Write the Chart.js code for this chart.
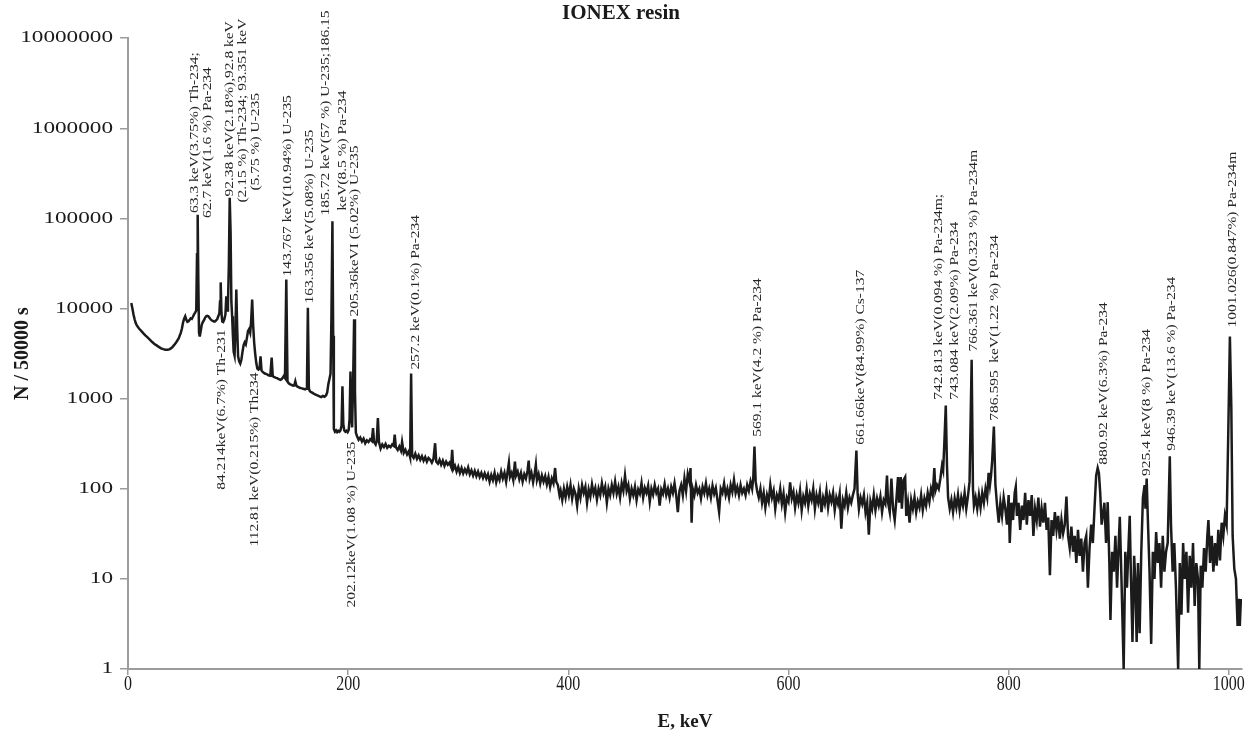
<!DOCTYPE html>
<html>
<head>
<meta charset="utf-8">
<script src="https://cdn.jsdelivr.net/npm/chart.js@4.4.1/dist/chart.umd.min.js"></script>
<style>
  html, body { margin: 0; padding: 0; background: #fff; }
  #wrap { width: 1252px; height: 736px; }
</style>
</head>
<body>
<div id="wrap"><canvas id="spectrum"></canvas></div>
<script>
// Gamma spectrum, IONEX resin (E in keV, counts per 50000 s)
const spectrumLow = [
  [3,11500],[4,10000],[5,8600],[6,7600],[7,6900],[8,6500],[10,6000],[12,5650],[14,5300],[16,5000],
  [18,4750],[20,4500],[22,4250],[24,4050],[26,3900],[28,3750],[30,3620],[32,3550],[34,3490],[36,3480],
  [38,3550],[40,3700],[42,3950],[44,4250],[46,4650],[48,5400],[49,6000],[50,7000],[51,7700],[52,8200],
  [53,7500],[54,7100],[55,7200],[56,7500],[57,7800],[58,7700],[59,8100],[60,8600],[61,9000],[62,9500],
  [62.7,40000],[63.3,110000],[63.9,20000],[64.5,5400],[65.2,4900],[66,5600],[67,6600],[68,7100],[69,7400],[70,7900],
  [71,8200],[72,8300],[73,8200],[74,7900],[75,7600],[76,7400],[77,7300],[78,7200],[79,7200],[80,7400],
  [81,7600],[82,8200],[83,8800],[83.6,12000],[84.2,19500],[84.9,9000],[85.6,7200],[86.5,7100],[87.5,7600],[88.5,8600],
  [89.3,13700],[90,9500],[90.8,11000],[91.6,30000],[92.4,170000],[93.2,70000],[93.9,12000],[94.6,8200],[95.3,5000],[96,3300],
  [96.8,3000],[97.6,6000],[98.4,16300],[99.2,6000],[100,2950],[101,2600],[102,2450],[103,2700],[104,3300],[105,3900],
  [106,4200],[107,4000],[108,4700],[109,5600],[110,5900],[111,5400],[111.8,7000],[112.8,12600],[113.7,6500],[114.6,4200],
  [115.5,3200],[116.5,2500],[117.5,2150],[118.5,2100],[119.5,2150],[120.4,2950],[121.3,2050],[122.3,1980],[123.3,1940],[124.3,1900],
  [125.3,1880],[126.3,1860],[127.3,1830],[128.3,1810],[129.3,1800],[130.5,2850],[131.5,1780],[132.5,1740],[133.5,1720],[134.5,1700],
  [135.5,1690],[136.5,1660],[137.5,1640],[138.5,1620],[139.5,1640],[140.5,1700],[141.5,1780],[142.6,1700],[143.8,21000],[144.9,1550],
  [146,1480],[147,1450],[148,1430],[149,1410],[150,1390],[151,1400],[152,1560],[153,1390],[154,1360],[155,1340],
  [156,1320],[157,1310],[158,1300],[159,1290],[160,1280],[161,1270],[162,1290],[162.6,1500],[163.4,10200],[164.3,1300],
  [165.2,1210],[166.5,1180],[168,1150],[169.5,1120],[171,1100],[172.5,1080],[174,1060],[175.5,1040],[177,1070],[178.5,1050],
  [180,1090],[181,1180],[182,1450],[183,1650],[184,1900],[184.8,8000],[185.7,93000],[186.4,5000],[187,460],[188,430],
  [189,445],[190,425],[191,440],[192,430],[193,445],[194,500],[194.8,1370],[195.6,520],[196.5,445],[197.5,430],
  [198.5,440],[199.5,425],[200.5,450],[201.3,600],[202.1,2000],[202.9,700],[203.6,480],[204.5,1500],[205.4,7600],[206.2,1200],
  [207,420]
];

const spectrumMid = [
  [208,385],[209.5,350],[211,370],[212.5,335],[214,360],[215.5,320],[217,345],[218.5,330],[220,355],[221.5,340],
  [222.6,470],[223.6,330],[225,310],[226,340],[227,610],[228,330],[229.5,280],[231,310],[232.5,290],[234,315],
  [235.5,285],[237,300],[238.5,290],[240,310],[241.3,300],[242.3,400],[243.3,290],[245,270],[246.5,295],[248,265],
  [249,330],[250.5,250],[252,270],[253.5,240],[255,260],[256.3,225],[257.2,1900],[258.1,235],[259.5,220],[261,245],
  [262.5,215],[264,235],[265.5,210],[267,230],[268.5,205],[270,225],[271.5,200],[273,220],[274.5,210],[276,195],
  [277.5,215],[279,320],[280,200],[281.5,190],[283,210],[284.5,185],[286,205],[287.5,180],[289,200],[290.5,185],
  [292,195],[293.5,175],[294.5,270],[295.5,165],[297,180],[298.5,155],[300,175],[301.5,150],[303,170],[304.5,148],
  [306,165],[307.5,150],[309,172],[310.5,145],[312,160],[313.5,140],[315,158],[316.5,138],[318,155],[319.5,135],
  [321,150],[322.5,132],[324,148],[325.5,130],[327,145],[328.5,120],[330,142],[331.5,125],[333,150],[334.5,118],
  [336,140],[337.5,125],[339,155],[340.5,130],[342,150],[343.5,120],[345,160],[346,195],[347,135],[348.5,150],
  [350,125],[351.5,200],[352.5,140],[354,155],[355.5,128],[357,150],[358.5,120],[360,145],[361.5,130],[363,160],
  [364,205],[365,130],[366.5,150],[368,118],[369.5,150],[370.5,185],[371.5,125],[373,145],[374.5,115],[376,140],
  [377.5,120],[379,138],[380.5,112],[382,135],[383.5,105],[385,130],[386.5,115],[388,170],[389,120],[390.5,110],
  [392,85],[393,95],[394.5,75],[396,100],[397.5,80],[399,105],[400.5,85],[402,110],[403.5,78],[405,100],
  [406.5,88],[408,65],[409.5,100],[411,80],[412.5,110],[414,90],[415.5,105],[417,70],[418.5,98],[420,82],
  [421.5,112],[423,88],[424.5,102],[426,76],[427.5,100],[429,85],[430.5,115],[432,90],[433.5,105],[435,70],
  [436.5,100],[438,85],[439.5,110],[441,90],[442.5,120],[444,88],[445.5,105],[447,80],[448.5,115],[450,95],
  [451.5,140],[453,95],[454.5,110],[456,78],[457.5,100],[459,85],[460.5,105],[462,75],[463.5,98],[465,88],
  [466.5,115],[468,80],[469.5,102],[471,90],[472.5,108],[474,72],[475.5,100],[477,86],[478.5,110],[480,90],
  [481.5,100],[483,65],[484.5,98],[486,88],[487.5,112],[489,85],[490.5,100],[492,80],[493.5,105],[495,90],
  [496.5,115],[498,85],[499.5,55],[501,95],[502.5,110],[504,85],[505.5,130],[507,95],[508.5,145],[510,120],
  [511,170],[512,42],[513,100],[514.5,85],[516,110],[517.5,90],[519,100],[520.5,78],[522,105],[523.5,90],
  [525,115],[526.5,85],[528,100],[529.5,80],[531,108],[532.5,88],[534,102],[535.5,75],[537,55],[538.5,100],
  [540,90],[541.5,115],[543,85],[544.5,100],[546,80],[547.5,110],[549,92],[550.5,125],[552,90],[553.5,105],
  [555,85],[556.5,110],[558,90],[559.5,100],[561,85],[562.5,110],[564,95],[565.5,120],[567,100],[568,130],
  [569.1,295],[570.2,120],[571.5,95],[573,80],[574.5,100],[576,70],[577.5,90],[579,62],[580.5,85],[582,72],
  [583.5,110],[585,80],[586.5,95],[588,60],[589.5,85],[591,75],[592.5,100],[594,68],[595.5,88],[597,55],
  [598.5,80],[600,72],[601.5,118],[603,78],[604.5,92],[606,62],[607.5,85],[609,70],[610.5,95],[612,58],
  [613.5,82],[615,70],[616.5,98],[618,65],[619.5,88],[621,75],[622.5,100],[624,60],[625.5,85],[627,70],
  [628.5,92],[630,55],[631.5,80],[633,68],[634.5,95],[636,62],[637.5,85],[639,72],[640.5,90],[642,58],
  [643.5,80],[645,68],[646.5,88],[648,36],[649.5,75],[651,65],[652.5,90],[654,62],[655.5,80],[657,70],
  [658.5,85],[660,100],[661.7,265],[662.8,90],[664,60],[665.5,80],[667,68],[668.5,85],[670,55],[671.5,70],
  [673,31],[674.5,72],[676,60],[677.5,85],[679,58],[680.5,78],[682,65],[683.5,82],[685,55],[686.5,75],
  [688,68],[689.5,140],[690.5,70],[692,55],[693.5,130],[695,60],[696.5,45],[698,75],[699.5,135],[700.5,70],
  [702,135],[703,60],[704.5,125],[706,135],[707,50],[708.5,70],[710,42],[711.5,75],[713,60],[714.5,80],
  [716,55],[717.5,72],[719,62],[720.5,85],[722,58],[723.5,78],[725,65],[726.5,90],[728,72],[729.5,100],
  [731,85],[732.5,170],[733.5,95],[735,110],[736.5,100],[738,130],[739.5,180],[740.5,160],[741.5,300],[742.9,840],
  [744,180],[745,80],[746.5,60],[748,75],[749.5,55],[751,78],[752.5,62],[754,85],[755.5,58],[757,80],
  [758.5,65],[760,90],[761.5,60],[763,82],[764.5,120],[766.4,2700],[767.6,100],[768.5,65],[770,80],[771.5,60],
  [773,85],[774.5,62],[776,90],[777.5,70],[779,100],[780.5,80],[781.8,150],[783,110],[784,140],[785,200],
  [786.6,490],[788,110],[789.5,65],[791,42],[792.5,70],[794,50],[795.5,80]
];

const spectrumHigh = [
  [797,60],[798.5,40],[800,85],[801,25],[802.5,70],[804,45],[805.5,90],[806.5,105],[807.5,50],[809,70],
  [810.5,35],[812,65],[813.5,45],[815,90],[816.5,40],[818,75],[819.5,50],[821,85],[822.5,30],[824,60],
  [825.5,45],[827,80],[828.5,38],[830,60],[831.5,42],[833,70],[834.5,35],[836,48],[837.5,11],[839,45],
  [840.5,30],[842,55],[843.5,35],[845,50],[846.5,28],[848,45],[849.5,32],[851,40],[852.5,82],[854,30],
  [855.5,22],[857,38],[858.5,20],[860,30],[861.5,15],[863,35],[864.5,18],[866,28],[867.5,12],[869,25],
  [870.5,30],[872,8],[873.5,22],[875,40],[876.5,25],[878,60],[879.5,140],[880.9,170],[882,150],[883.2,90],
  [884.5,40],[886,55],[887,70],[888.5,25],[890,71],[891.5,15],[892.5,3.5],[894,20],[895.5,12],[897,30],
  [898.5,8],[900,25],[901,49],[902.5,10],[904.5,1],[906,20],[907.5,8],[909,25],[910,50],[911,12],
  [912.5,2],[914,18],[915,10],[916.3,2],[917.5,15],[919,2.5],[920.5,20],[922,80],[923.5,110],[924.3,60],
  [925.4,130],[926.5,45],[928,12],[929.5,1.9],[931,20],[932.5,10],[934,33],[935.5,15],[937,25],[938.5,8],
  [940,30],[941.5,12],[943,20],[944.5,25],[946.4,230],[947.5,40],[949,12],[950.5,25],[952,8],[954,1],
  [955.5,15],[957,4],[958.5,25],[960,10],[961.5,20],[963,4.2],[964.5,18],[966,8],[967.5,25],[969,5],
  [970.5,15],[972,10],[973.2,1],[974.5,14],[976,8],[977.5,22],[979,12],[980.5,30],[981.5,45],[983,15],
  [984.5,30],[986,12],[987.5,25],[989,14],[990.5,35],[992,16],[993.5,42],[995,30],[996.5,50],[998,40],
  [999.5,400],[1001,4900],[1002.3,800],[1003.5,30],[1005,13],[1006.5,10],[1008,3],[1009,6],[1010,3],[1011,6]
];

const xTickValues = [0, 200, 400, 600, 800, 1000];
const yTickValues = [1, 10, 100, 1000, 10000, 100000, 1000000, 10000000];

// peak annotations
const labelEnergies = [63.2, 92.4, 143.77, 163.36, 185.72, 205.36, 257.2, 569.1, 661.66, 742.9,
  766.36, 786.6, 880.92, 925.4, 946.39, 1001.03, 84.21, 112.81, 202.12];
const labelTexts = [
  ['63.3 keV(3.75%) Th-234;', '62.7 keV(1.6 %) Pa-234'],
  ['92.38 keV(2.18%),92.8 keV', '(2.15 %) Th-234; 93.351 keV', '(5.75 %) U-235'],
  ['143.767 keV(10.94%) U-235'],
  ['163.356 keV(5.08%) U-235'],
  ['185.72 keV(57 %) U-235;186.15', 'keV(8.5 %) Pa-234'],
  ['205.36keVI (5.02%) U-235'],
  ['257.2 keV(0.1%) Pa-234'],
  ['569.1 keV(4.2 %) Pa-234'],
  ['661.66keV(84.99%) Cs-137'],
  ['742.813 keV(0.094 %) Pa-234m;', '743.084 keV(2.09%) Pa-234'],
  ['766.361 keV(0.323 %) Pa-234m'],
  ['786.595  keV(1.22 %) Pa-234'],
  ['880.92 keV(6.3%) Pa-234'],
  ['925.4 keV(8 %) Pa-234'],
  ['946.39 keV(13.6 %) Pa-234'],
  ['1001.026(0.847%) Pa-234m'],
  ['84.214keV(6.7%) Th-231'],
  ['112.81 keV(0.215%) Th234'],
  ['202.12keV(1.08 %) U-235']
];
// where each label sits: count level of its start (or end, when below), pixel shifts
const labelPlacement = [
  { at: 115000, dx: -2.5, gap: 12.5, rise: [0, -5] },
  { at: 175000, dx: 0, gap: 13, rise: [0, -6, 6] },
  { at: 22700, dx: 1 },
  { at: 11400, dx: 2 },
  { at: 108000, dx: -6.5, gap: 17, rise: [0, 5] },
  { at: 8150, dx: 1 },
  { at: 2100, dx: 4 },
  { at: 378, dx: 3 },
  { at: 308, dx: 4 },
  { at: 975, dx: -7, gap: 15.5 },
  { at: 3330, dx: 2 },
  { at: 570, dx: 1 },
  { at: 185, dx: 5.5 },
  { at: 139, dx: 0 },
  { at: 264, dx: 1.5 },
  { at: 6150, dx: 2.5 },
  { at: 5840, dx: 1, below: true },
  { at: 1950, dx: 2, below: true },
  { at: 333, dx: 1, below: true }
];

const spectrum = spectrumLow.concat(spectrumMid, spectrumHigh);
const serif = '"Liberation Serif", "Times New Roman", serif';
const axisGrey = '#9c9c9c';

const peakLabels = {
  id: 'peakLabels',
  afterDatasetsDraw(chart) {
    const { ctx, scales: { x, y } } = chart;
    ctx.save();
    ctx.fillStyle = '#262626';
    ctx.font = '13px ' + serif;
    ctx.textBaseline = 'middle';
    labelEnergies.forEach((e, i) => {
      const p = labelPlacement[i];
      const px = x.getPixelForValue(e) + p.dx;
      const py = y.getPixelForValue(p.at);
      labelTexts[i].forEach((line, j) => {
        const rise = p.rise ? p.rise[j] : 0;
        ctx.save();
        ctx.translate(px + j * (p.gap || 13), py - rise);
        ctx.rotate(-Math.PI / 2);
        ctx.scale(1.19, 1);
        ctx.textAlign = p.below ? 'right' : 'left';
        ctx.fillText(line, 0, 0);
        ctx.restore();
      });
    });
    ctx.restore();
  }
};

// tick labels in the picture are stretched (wide on y, tall on x)
const stretchedTicks = {
  id: 'stretchedTicks',
  afterDraw(chart) {
    const { ctx, scales: { x, y } } = chart;
    ctx.save();
    ctx.fillStyle = '#1a1a1a';
    ctx.font = '16px ' + serif;
    ctx.textBaseline = 'middle';
    ctx.textAlign = 'right';
    yTickValues.forEach(v => {
      ctx.save();
      ctx.translate(y.right - 15, y.getPixelForValue(v));
      ctx.scale(1.45, 1);
      ctx.fillText(String(v), 0, 0);
      ctx.restore();
    });
    ctx.textAlign = 'center';
    xTickValues.forEach(v => {
      ctx.save();
      ctx.translate(x.getPixelForValue(v), x.top + 16);
      ctx.scale(1, 1.3);
      ctx.fillText(String(v), 0, 0);
      ctx.restore();
    });
    ctx.restore();
  }
};

new Chart(document.getElementById('spectrum'), {
  type: 'line',
  data: {
    datasets: [{
      data: spectrum.map(([e, n]) => ({ x: e, y: n })),
      borderColor: '#1b1b1b',
      borderWidth: 2.5,
      pointRadius: 0,
      tension: 0,
      fill: false
    }]
  },
  options: {
    responsive: true,
    maintainAspectRatio: false,
    animation: false,
    layout: { padding: { left: 0, right: 10, top: 0, bottom: 0 } },
    plugins: {
      legend: { display: false },
      tooltip: { enabled: false },
      title: {
        display: true,
        text: 'IONEX resin',
        color: '#1a1a1a',
        font: { family: serif, size: 21, weight: 'bold' },
        padding: { top: 1, bottom: 12 }
      }
    },
    scales: {
      x: {
        type: 'linear',
        min: 0,
        max: 1012,
        afterBuildTicks: (s) => { s.ticks = xTickValues.map(v => ({ value: v })); },
        afterFit: (s) => { s.height = 67; },
        border: { display: true, color: axisGrey, width: 2 },
        grid: { drawOnChartArea: false, drawTicks: true, tickLength: 6, color: axisGrey, lineWidth: 1.5 },
        ticks: { display: false },
        title: {
          display: true,
          text: 'E, keV',
          color: '#1a1a1a',
          font: { family: serif, size: 19, weight: 'bold' },
          padding: { top: 0, bottom: 3 }
        }
      },
      y: {
        type: 'logarithmic',
        min: 1,
        max: 10000000,
        afterBuildTicks: (s) => { s.ticks = yTickValues.map(v => ({ value: v })); },
        afterFit: (s) => { s.width = 128; },
        border: { display: true, color: axisGrey, width: 2 },
        grid: { drawOnChartArea: false, drawTicks: true, tickLength: 8, color: axisGrey, lineWidth: 1.5 },
        ticks: { display: false },
        title: {
          display: true,
          text: 'N / 50000 s',
          color: '#1a1a1a',
          font: { family: serif, size: 20, weight: 'bold' },
          padding: { top: 11, bottom: 0 }
        }
      }
    }
  },
  plugins: [peakLabels, stretchedTicks]
});
</script>
</body>
</html>
